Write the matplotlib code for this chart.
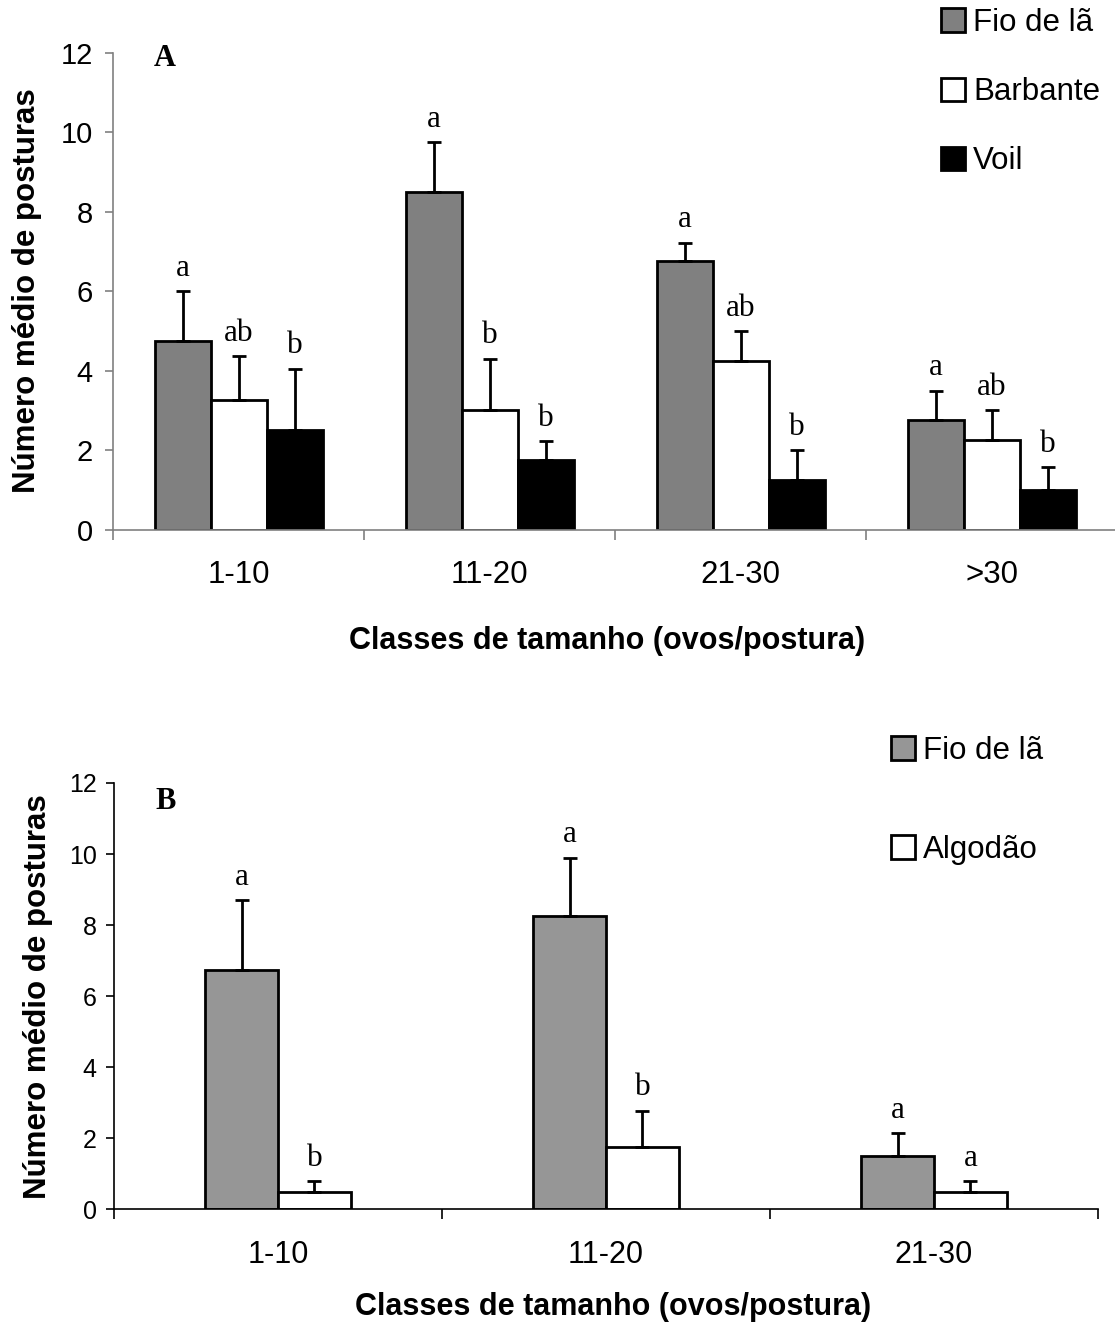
import numpy as np
import matplotlib.pyplot as plt

plt.rcParams['font.family'] = ['Liberation Sans', 'DejaVu Sans']

# Panel A data
classes_a = ['1-10', '11-20', '21-30', '>30']
fio_a = [4.75, 8.5, 6.75, 2.75]
fio_a_err = [1.25, 1.25, 0.47, 0.75]
barb_a = [3.25, 3.0, 4.25, 2.25]
barb_a_err = [1.12, 1.3, 0.75, 0.75]
voil_a = [2.5, 1.75, 1.25, 1.0]
voil_a_err = [1.55, 0.47, 0.75, 0.58]
let_fio_a = ['a', 'a', 'a', 'a']
let_barb_a = ['ab', 'b', 'ab', 'ab']
let_voil_a = ['b', 'b', 'b', 'b']

# Panel B data
classes_b = ['1-10', '11-20', '21-30']
fio_b = [6.75, 8.25, 1.5]
fio_b_err = [1.95, 1.65, 0.65]
alg_b = [0.5, 1.75, 0.5]
alg_b_err = [0.3, 1.03, 0.3]
let_fio_b = ['a', 'a', 'a']
let_alg_b = ['b', 'b', 'a']

W, H = 1115, 1327
fig = plt.figure(figsize=(W / 100, H / 100), dpi=100)


def px_axes(left, right, top, bottom):
    return fig.add_axes([left / W, 1 - bottom / H, (right - left) / W, (bottom - top) / H])


def panel(ax, classes, series, width, spine_col, ytick_size, xtick_size, ypad):
    n = len(classes)
    x = np.arange(n)
    k = len(series)
    for i, (vals, errs, lets, col, lab) in enumerate(series):
        pos = x + (i - (k - 1) / 2) * width
        ax.bar(pos, vals, width, color=col, edgecolor='black', linewidth=2, label=lab, zorder=2)
        ax.errorbar(pos, vals, yerr=[np.zeros(n), errs], fmt='none', ecolor='black',
                    elinewidth=2, capsize=4.7, capthick=2, zorder=3)
        for p, v, e, t in zip(pos, vals, errs, lets):
            ax.annotate(t, (p, v + e), xytext=(0, 11), textcoords='offset points',
                        ha='center', va='baseline', fontsize=22.5, family='Liberation Serif')
    ax.set_xlim(-0.5, n - 0.5)
    ax.set_ylim(0, 12)
    ax.set_yticks(range(0, 13, 2))
    ax.set_xticks(np.arange(n + 1) - 0.5)
    ax.set_xticklabels([])
    ax.set_xticks(x, minor=True)
    ax.set_xticklabels(classes, minor=True)
    ax.tick_params(axis='x', which='major', length=7, width=1.2, color=spine_col, direction='out')
    ax.tick_params(axis='x', which='minor', length=0, pad=22, labelsize=xtick_size)
    ax.tick_params(axis='y', length=5.5, width=1.2, color=spine_col, pad=ypad, labelsize=ytick_size)
    for s in ['top', 'right']:
        ax.spines[s].set_visible(False)
    for s in ['left', 'bottom']:
        ax.spines[s].set_color(spine_col)
        ax.spines[s].set_linewidth(1.2)


# Panel A
ax1 = px_axes(113, 1117.6, 52.5, 529.7)
panel(ax1, classes_a,
      [(fio_a, fio_a_err, let_fio_a, '#808080', 'Fio de lã'),
       (barb_a, barb_a_err, let_barb_a, 'white', 'Barbante'),
       (voil_a, voil_a_err, let_voil_a, 'black', 'Voil')],
      0.223, '#808080', 21, 22.5, 9)
ax1.set_ylabel('Número médio de posturas', fontsize=22.5, fontweight='bold')
ax1.yaxis.set_label_coords(-0.0707, 0.5)
ax1.set_xlabel('Classes de tamanho (ovos/postura)', fontsize=22, fontweight='bold')
ax1.xaxis.set_label_coords(0.492, -0.201)
ax1.text(0.0404, 0.972, 'A', transform=ax1.transAxes, fontsize=22, fontweight='bold',
         family='Liberation Serif', va='baseline', ha='left')
h, l = ax1.get_legend_handles_labels()
fig.legend(h, l, loc='upper left', bbox_to_anchor=(941 / W, 1 - 8 / H), frameon=False,
           fontsize=22.5, handlelength=0.77, handleheight=0.77, handletextpad=0.25,
           labelspacing=1.25, borderpad=0, borderaxespad=0)

# Panel B
ax2 = px_axes(114, 1098, 783, 1209.3)
panel(ax2, classes_b,
      [(fio_b, fio_b_err, let_fio_b, '#969696', 'Fio de lã'),
       (alg_b, alg_b_err, let_alg_b, 'white', 'Algodão')],
      0.2225, 'black', 18, 22, 7)
ax2.set_ylabel('Número médio de posturas', fontsize=22.5, fontweight='bold')
ax2.yaxis.set_label_coords(-0.0624, 0.5)
ax2.set_xlabel('Classes de tamanho (ovos/postura)', fontsize=22, fontweight='bold')
ax2.xaxis.set_label_coords(0.507, -0.194)
ax2.text(0.042, 0.940, 'B', transform=ax2.transAxes, fontsize=22, fontweight='bold',
         family='Liberation Serif', va='baseline', ha='left')
h, l = ax2.get_legend_handles_labels()
fig.legend(h, l, loc='upper left', bbox_to_anchor=(891.4 / W, 1 - 736 / H), frameon=False,
           fontsize=22.5, handlelength=0.77, handleheight=0.77, handletextpad=0.25,
           labelspacing=2.2, borderpad=0, borderaxespad=0)

fig.savefig('out.png', dpi=100)
